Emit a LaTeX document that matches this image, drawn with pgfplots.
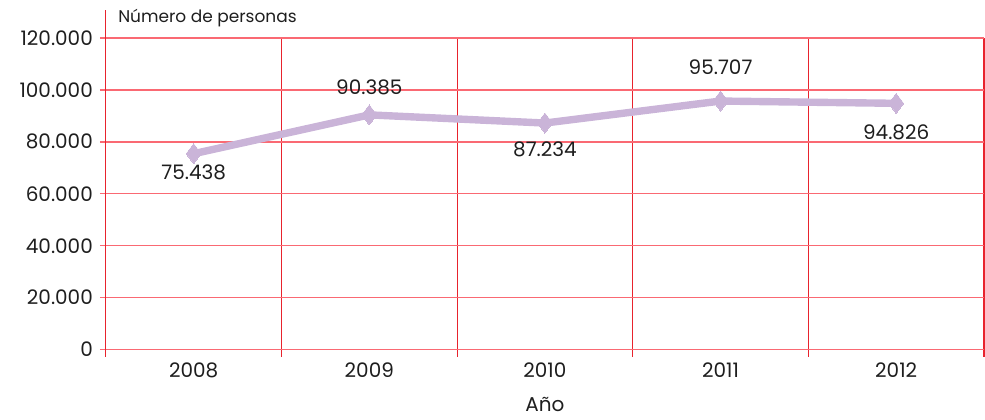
\documentclass[border=0pt]{standalone}
\usepackage{pgfplots}
\pgfplotsset{compat=1.18}
\usepackage{fontspec}
\setmainfont{Poppins}
\definecolor{lav}{RGB}{202,180,216}
\definecolor{hgrid}{RGB}{250,105,115}
\definecolor{vgrid}{RGB}{232,35,45}
\definecolor{txt}{RGB}{30,30,30}
\begin{document}
\begin{tikzpicture}
\begin{axis}[
  name=ax,
  scale only axis, width=439.5pt, height=156pt,
  xmin=-0.5, xmax=4.5, ymin=0, ymax=120000,
  axis x line=bottom, axis y line=left,
  x axis line style={-, draw=hgrid, line width=0.7pt},
  y axis line style={-, draw=vgrid, line width=0.6pt},
  xtick={0,...,4}, xticklabels={2008,2009,2010,2011,2012},
  major x tick style={draw=none},
  minor xtick={-0.5,0.5,1.5,2.5,3.5,4.5},
  xminorgrids=true,
  grid style={draw=hgrid, line width=0.7pt},
  minor x grid style={draw=vgrid, line width=0.6pt, opacity=1},
  minor x tick style={draw=vgrid, line width=0.6pt},
  minor tick length=3.5pt,
  tick align=outside,
  ytick={0,20000,...,120000},
  ymajorgrids=true,
  major y grid style={draw=hgrid, line width=0.7pt, opacity=1},
  y tick style={draw=hgrid, line width=0.7pt},
  major tick length=3pt,
  scaled y ticks=false,
  /pgf/number format/.cd, fixed, precision=0, 1000 sep={.}, assume math mode=true, /pgfplots/.cd,
  tick label style={font=\fontsize{10}{12}\selectfont, text=txt},
  xlabel={Año},
  xlabel style={at={(axis description cs:0.5,0)}, anchor=center, yshift=-27.5pt, font=\fontsize{10}{12}\selectfont, text=txt},
  clip=false,
]
\addplot[lav, line width=3.7pt, mark=diamond*, mark size=5pt,
  mark options={fill=lav, draw=lav, line width=0pt},
  nodes near coords, point meta=y,
  visualization depends on={\thisrow{dy} \as \dy},
  every node near coord/.append style={anchor=center, yshift=\dy pt, font=\fontsize{10}{12}\selectfont, text=txt}]
  table {
x y dy
0 75438 -9.5
1 90385 14
2 87234 -13
3 95707 17
4 94826 -14.5
};
\end{axis}
\draw[vgrid, line width=0.6pt] (ax.north west) -- ++(0,14pt);
\node[anchor=west, font=\fontsize{8.5}{10}\selectfont, text=txt, inner sep=0pt] at ([xshift=6pt,yshift=10pt]ax.north west) {Número de personas};
\path (ax.south west) ++(-53pt,-35pt);
\path (ax.north east) ++(0.5pt,19pt);
\end{tikzpicture}
\end{document}
